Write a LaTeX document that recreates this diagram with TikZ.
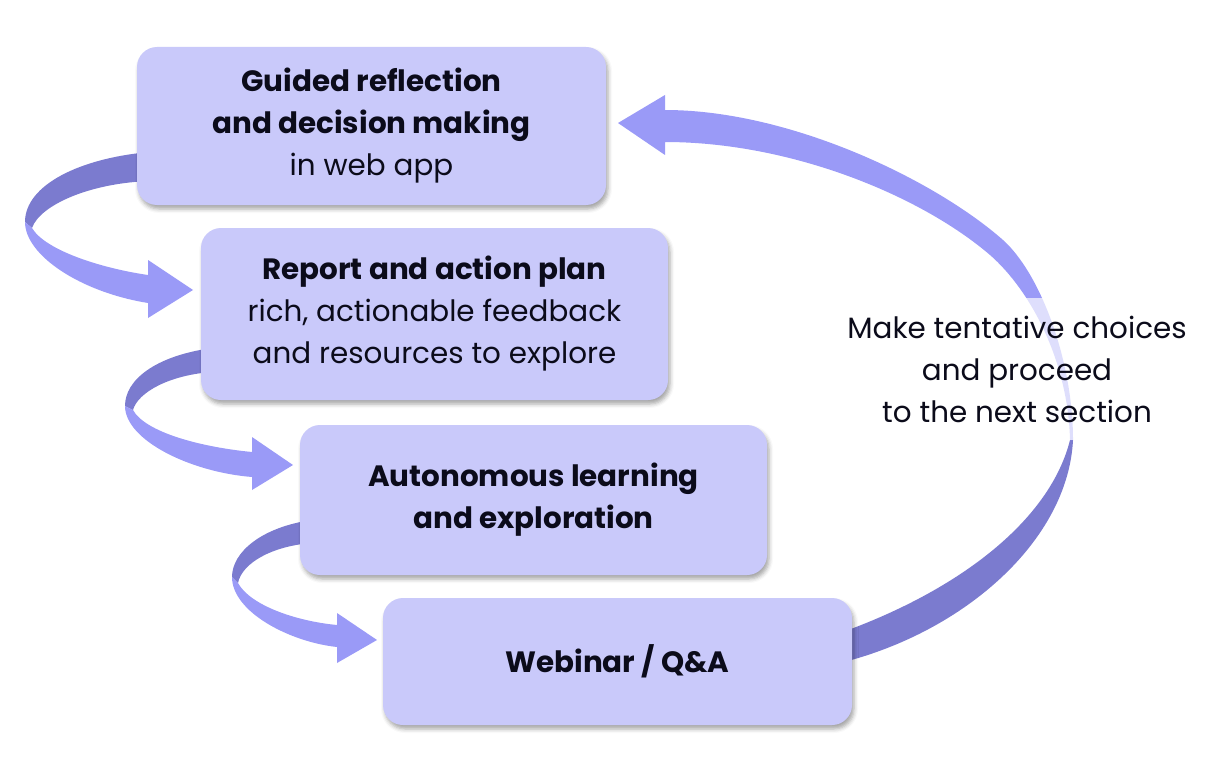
\documentclass[tikz,border=0pt]{standalone}
\usepackage{fontspec}
\setmainfont{Poppins}
\usetikzlibrary{shadows.blur}
\definecolor{boxfill}{HTML}{C9C9FA}
\definecolor{ribl}{HTML}{9A9AF7}
\definecolor{ribd}{HTML}{7B7BCF}
\definecolor{txt}{HTML}{0B0B1A}
\tikzset{
  stagebox/.style={rectangle, rounded corners=20pt, fill=boxfill, draw=none,
    align=center, text=txt, inner sep=0pt, font=\fontsize{29.4}{42}\selectfont,
    blur shadow={shadow xshift=2pt, shadow yshift=-4pt, shadow blur radius=4pt, shadow opacity=35}},
  front/.style={fill=ribl},
  back/.style={fill=ribd},
  notebox/.style={rectangle, fill=white, fill opacity=0.68, text opacity=1,
    align=center, text=txt, inner sep=0pt, font=\fontsize{29.4}{42}\selectfont}
}
\begin{document}
\begin{tikzpicture}[x=1pt,y=-1pt]
\useasboundingbox (0,0) rectangle (1222,762);

% ribbon 1
\fill[back] (150,152) .. controls (80,158) and (25,185) .. (25,222)
  -- (32,228) .. controls (40,205) and (90,183) .. (150,181) -- cycle;
\fill[front] (25,222) .. controls (25,255) and (80,292) .. (148,303)
  -- (148,318) -- (193,290) -- (148,260) -- (148,275)
  .. controls (100,268) and (45,250) .. (32,228) -- cycle;

% ribbon 2
\fill[back] (212,348) .. controls (155,356) and (125,380) .. (125,406)
  -- (133,410) .. controls (138,392) and (170,375) .. (212,372) -- cycle;
\fill[front] (125,406) .. controls (125,440) and (190,472) .. (252,477)
  -- (252,490) -- (293,465) -- (252,437) -- (252,452)
  .. controls (200,447) and (145,432) .. (133,410) -- cycle;

% ribbon 3
\fill[back] (312,520) .. controls (262,527) and (232,552) .. (232,577)
  -- (238,583) .. controls (242,563) and (272,546) .. (312,543) -- cycle;
\fill[front] (232,577) .. controls (232,612) and (290,642) .. (337,647)
  -- (337,663) -- (377,640) -- (337,613) -- (337,625)
  .. controls (295,621) and (250,605) .. (238,583) -- cycle;

% big return ribbon
\fill[back] (840,633) .. controls (960,590) and (1050,520) .. (1070,440)
  -- (1073,440) .. controls (1068,540) and (965,632) .. (840,663) -- cycle;
\fill[front] (1073,440) .. controls (1073,360) and (1040,273) .. (1003,240)
  .. controls (935,180) and (790,110) .. (665,110)
  -- (665,95) -- (618,123) -- (665,155) -- (665,142)
  .. controls (790,142) and (920,195) .. (990,255)
  .. controls (1030,290) and (1068,360) .. (1070,440) -- cycle;

% boxes
\node[stagebox, minimum width=469pt, minimum height=158pt] (b1) at (371.5,126)
  {\bfseries Guided reflection\\ \bfseries and decision making\\ in web app};
\node[stagebox, minimum width=467pt, minimum height=172pt] (b2) at (434.5,314)
  {\bfseries Report and action plan\\ rich, actionable feedback\\ and resources to explore};
\node[stagebox, minimum width=467pt, minimum height=150pt] (b3) at (533.5,500)
  {\bfseries Autonomous learning\\ \bfseries and exploration};
\node[stagebox, minimum width=469pt, minimum height=127pt] (b4) at (617.5,661.5)
  {\bfseries Webinar / Q\&A};

% note
\node[notebox, minimum width=352pt, minimum height=142pt] (note) at (1017,369)
  {Make tentative choices\\ and proceed\\ to the next section};
\end{tikzpicture}
\end{document}
